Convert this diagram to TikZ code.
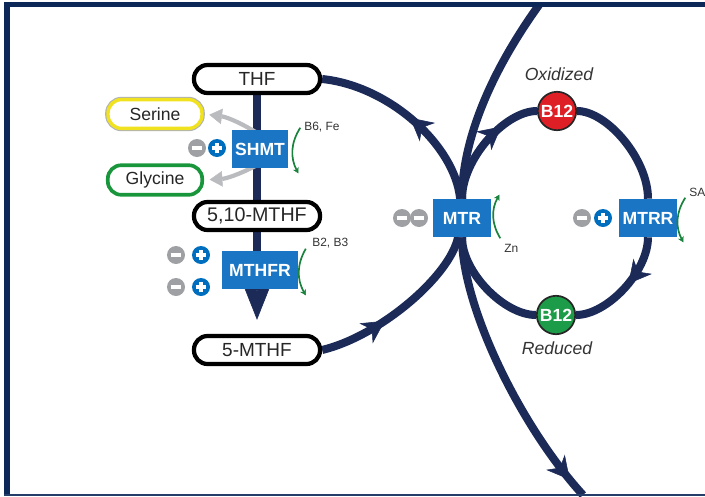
\documentclass[tikz,border=0pt]{standalone}
\usepackage{fontspec}
\setmainfont{Liberation Sans}
\usetikzlibrary{arrows.meta,positioning,decorations.markings,backgrounds}

\definecolor{pathnavy}{RGB}{28,42,88}
\definecolor{framenavy}{RGB}{12,40,88}
\definecolor{enzblue}{RGB}{26,118,196}
\definecolor{plusblue}{RGB}{0,110,190}
\definecolor{minusgray}{RGB}{158,160,163}
\definecolor{arrowgray}{RGB}{185,187,190}
\definecolor{cofgreen}{RGB}{25,130,60}
\definecolor{serineyellow}{RGB}{240,226,30}
\definecolor{glygreen}{RGB}{25,150,60}
\definecolor{b12red}{RGB}{222,32,38}
\definecolor{b12green}{RGB}{28,155,72}

\newcommand{\minusbar}{\textcolor{white}{\rule[-1.4pt]{7.6pt}{2.8pt}}}
\newcommand{\plusbar}{\textcolor{white}{\makebox[0pt]{\rule[-1.4pt]{7.6pt}{2.8pt}}\makebox[0pt]{\rule[-3.8pt]{2.8pt}{7.6pt}}}}

\begin{document}
\begin{tikzpicture}[x=0.025cm,y=0.025cm,
  pill/.style={draw=black,line width=3pt,rounded corners=0.34cm,minimum width=3.15cm,minimum height=0.7cm,inner sep=0pt,fill=white,text=black!85,font=\fontsize{13.5}{16}\selectfont},
  enzyme/.style={fill=enzblue,inner sep=0pt,minimum height=0.95cm,text=white,font=\fontsize{12.5}{15}\selectfont\bfseries},
  inh/.style={circle,fill=minusgray,minimum size=0.45cm,inner sep=0pt},
  act/.style={circle,fill=plusblue,minimum size=0.45cm,inner sep=0pt},
  bcirc/.style={circle,draw=black!85,line width=1.2pt,minimum size=0.96cm,inner sep=0pt,text=white,font=\fontsize{12.5}{15}\selectfont\bfseries},
  flow/.style={color=pathnavy,line width=5.7pt},
  midtip/.style={postaction={decorate},decoration={markings,mark=at position #1 with {\arrow{Stealth[length=16pt,width=17pt,inset=5pt,line width=0.4pt]}}}},
  cof/.style={draw=cofgreen,line width=1.2pt,-{Stealth[length=4pt,width=4.5pt,line width=0.3pt]}},
  sidearrow/.style={draw=arrowgray,line width=3pt,shorten >=4pt,-{Triangle[length=9pt,width=11pt,line width=0.3pt]}},
  cofname/.style={font=\fontsize{8.5}{10}\selectfont,text=black!80,inner sep=0pt,anchor=west},
  redox/.style={font=\fontsize{12.5}{15}\selectfont\itshape,text=black!80}
]
\useasboundingbox (0,0) rectangle (705,496);

% folate side
\node[pill] (THF) at (257,417) {THF};
\node[pill,minimum width=2.35cm,minimum height=0.72cm,draw=serineyellow,line width=2.4pt,
      preaction={draw=minusgray!80,line width=4pt},font=\fontsize{12.5}{15}\selectfont] (Serine) at (155,382) {Serine};
\node[pill,minimum width=2.36cm,minimum height=0.74cm,draw=glygreen,line width=2.6pt,
      font=\fontsize{12.5}{15}\selectfont] (Glycine) at (155,316) {Glycine};
\node[enzyme,minimum width=1.4cm] (SHMT) at (260,347) {SHMT};
\node[act] (SHMTp) at (217,348) {\plusbar};
\node[inh] (SHMTm) at (197,348) {\minusbar};
\node[cofname] (SHMTc) at (304,369) {B6, Fe};
\node[pill,font=\fontsize{14}{16}\selectfont] (MTHF510) at (257,280) {5,10-MTHF};
\node[enzyme,minimum width=1.875cm] (MTHFR) at (260,226) {MTHFR};
\node[act] (MTHFRp1) at (201,241) {\plusbar};
\node[inh] (MTHFRm1) at (176,241) {\minusbar};
\node[act] (MTHFRp2) at (201,209) {\plusbar};
\node[inh] (MTHFRm2) at (176,209) {\minusbar};
\node[cofname] (MTHFRc) at (312,253) {B2, B3};
\node[pill] (MTHF5) at (257,146) {5-MTHF};

% methionine synthase and B12 cycle
\node[enzyme,minimum width=1.45cm] (MTR) at (462,278) {MTR};
\node[inh] (MTRm2) at (419,278) {\minusbar};
\node[inh] (MTRm1) at (402,278) {\minusbar};
\node[cofname] (MTRc) at (504,248) {Zn};
\node[enzyme,minimum width=1.45cm] (MTRR) at (648,278) {MTRR};
\node[act] (MTRRp) at (603,278) {\plusbar};
\node[inh] (MTRRm) at (582,278) {\minusbar};
\node[cofname] (MTRRc) at (689,304) {SA};
\node[bcirc,fill=b12red] (B12ox) at (557,385) {B12};
\node[bcirc,fill=b12green] (B12red) at (556,181) {B12};
\node[redox] (Oxid) at (559,422) {Oxidized};
\node[redox] (Redu) at (557,148) {Reduced};

\coordinate (topend) at (539,491);
\coordinate (botend) at (583,1);

\begin{scope}[on background layer]
\draw[flow] (THF) -- (MTHF510);
\draw[flow,shorten >=10pt,-{Stealth[length=24pt,width=19pt,inset=3pt,line width=0.4pt]}] (MTHF510) -- (MTHF5);
\draw[sidearrow] ([shift={(25,-3)}]SHMT.north west) to[bend right=12] (Serine.east);
\draw[sidearrow] ([shift={(25,3)}]SHMT.south west) to[bend left=12] (Glycine.east);

\draw[flow,midtip=0.5] (MTR) .. controls (455,350) and (390,410) .. (THF.east);
\draw[flow,midtip=0.38] (MTHF5.east) .. controls (380,160) and (450,220) .. (MTR);
\draw[flow] (topend) .. controls (495,430) and (462,360) .. (MTR);
\draw[flow,midtip=0.93] (MTR) .. controls (462,190) and (520,70) .. (botend);

\draw[flow,midtip=0.68] (MTR) .. controls +(0,59) and +(-52,0) .. (B12ox);
\draw[flow] (B12ox) .. controls +(50,0) and +(0,59) .. (MTRR);
\draw[flow,midtip=0.45] (MTRR) .. controls +(0,-54) and +(51,0) .. (B12red);
\draw[flow] (B12red) .. controls +(-52,0) and +(0,-54) .. (MTR);
\end{scope}

\draw[cof] ([shift={(12,2)}]SHMT.north east) to[bend right=30] ([shift={(10,-5)}]SHMT.south east);
\draw[cof] ([shift={(8,2)}]MTHFR.north east) to[bend right=30] ([shift={(8,-6)}]MTHFR.south east);
\draw[cof] ([shift={(9,-1)}]MTR.south east) to[bend left=30] ([shift={(8,4)}]MTR.north east);
\draw[cof] ([shift={(8,1)}]MTRR.north east) to[bend right=30] ([shift={(6,-5)}]MTRR.south east);

% frame
\fill[framenavy] (4,0) rectangle (10,494);
\fill[framenavy] (4,489) rectangle (705,494);
\fill[framenavy!90] (4,0) rectangle (705,2);
\end{tikzpicture}
\end{document}
